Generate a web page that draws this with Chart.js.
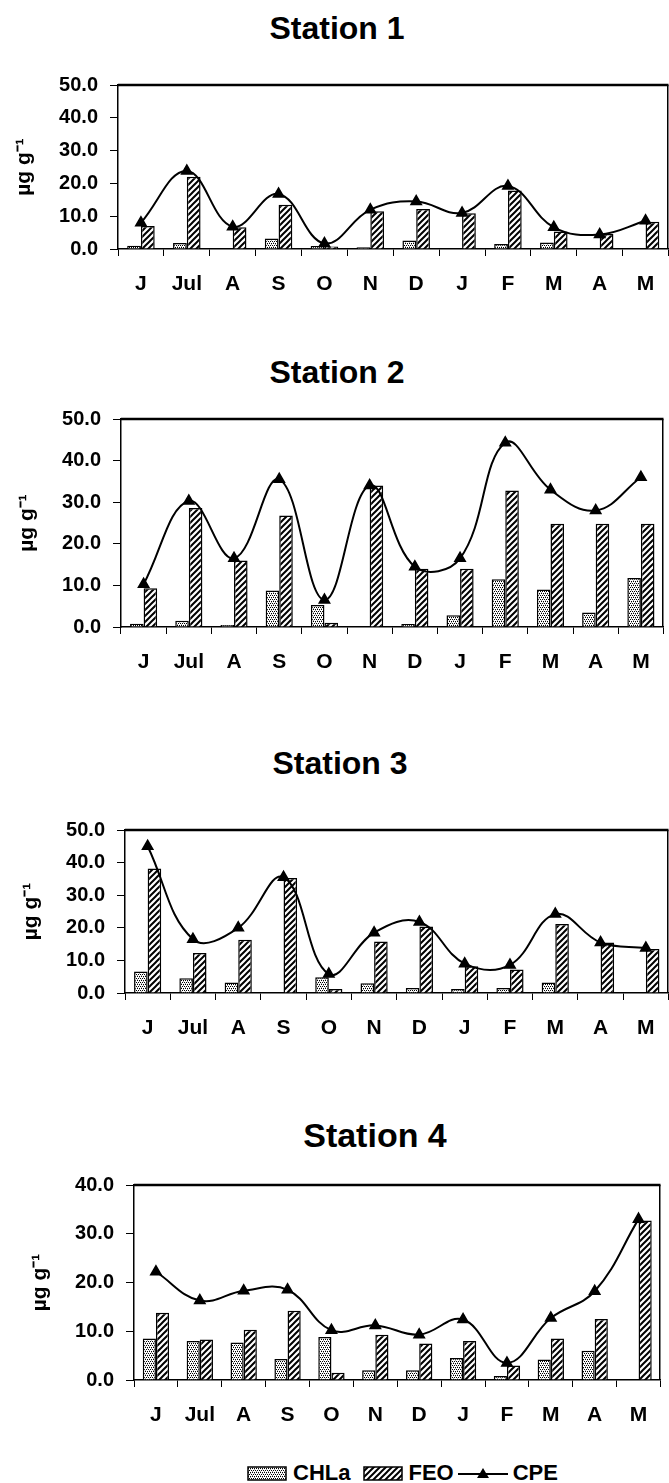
<!DOCTYPE html>
<html>
<head>
<meta charset="utf-8">
<script src="https://cdn.jsdelivr.net/npm/chart.js@4.4.1/dist/chart.umd.min.js"></script>
<style>
html, body { margin: 0; padding: 0; background: #fff; }
body { position: relative; width: 669px; height: 1483px; overflow: hidden;
       font-family: "Liberation Sans", Arial, sans-serif; font-weight: bold; color: #000; }
canvas.chart { position: absolute; left: 0; }
.title { position: absolute; transform: translate(-50%, -50%); white-space: nowrap; font-size: 32px; line-height: 1; }
#legend { position: absolute; left: 247px; top: 1461px; height: 24px; display: flex; align-items: center; font-size: 22px; white-space: nowrap; }
#legend canvas { display: block; }
</style>
</head>
<body>
<div class="title" style="left:337px; top:28px;">Station 1</div>
<div class="title" style="left:337px; top:372px;">Station 2</div>
<div class="title" style="left:340px; top:763px;">Station 3</div>
<div class="title" style="left:375px; top:1135px; font-size:34px;">Station 4</div>

<canvas class="chart" id="st1"></canvas>
<canvas class="chart" id="st2"></canvas>
<canvas class="chart" id="st3"></canvas>
<canvas class="chart" id="st4"></canvas>

<div id="legend">
  <canvas id="swChla" width="40" height="15" style="margin-right:6px"></canvas><span style="margin-right:13px">CHLa</span>
  <canvas id="swFeo" width="40" height="15" style="margin-right:5px"></canvas><span style="margin-right:4px">FEO</span>
  <canvas id="swCpe" width="50" height="16" style="margin-right:5px"></canvas><span>CPE</span>
</div>

<script>
const months = ['J', 'Jul', 'A', 'S', 'O', 'N', 'D', 'J', 'F', 'M', 'A', 'M'];

const chla1 = [1.0, 1.8, 0.2, 3.2, 0.9, 0.5, 2.6, 0.1, 1.5, 2.0, 0, 0];
const feo1  = [7.0, 22.0, 6.6, 13.5, 0.8, 11.5, 12.2, 10.9, 17.8, 5.3, 4.6, 8.3];
const cpe1  = [8.0, 23.8, 6.8, 16.8, 1.7, 12.0, 14.5, 11.0, 19.2, 6.6, 4.4, 8.6];

const chla2 = [0.8, 1.5, 0.5, 8.8, 5.3, 0, 0.7, 2.8, 11.5, 9.0, 3.5, 11.8];
const feo2  = [9.3, 28.6, 16.0, 26.8, 1.0, 34.0, 14.0, 14.0, 32.8, 24.8, 24.8, 24.8];
const cpe2  = [10.3, 30.3, 16.5, 35.5, 6.5, 34.0, 14.5, 16.5, 44.3, 33.0, 28.0, 36.0];

const chla3 = [6.6, 4.5, 3.2, 0, 4.8, 3.0, 1.5, 1.2, 1.5, 3.2, 0, 0];
const feo3  = [38.2, 12.3, 16.3, 35.3, 1.2, 15.8, 20.4, 8.2, 7.2, 21.2, 15.5, 13.5];
const cpe3  = [45.0, 16.5, 20.0, 35.5, 5.8, 18.5, 21.8, 9.0, 8.6, 24.2, 15.5, 13.8];

const chla4 = [8.5, 8.0, 7.7, 4.3, 8.8, 2.0, 2.0, 4.5, 0.8, 4.2, 6.0, 0];
const feo4  = [13.8, 8.3, 10.3, 14.2, 1.5, 9.3, 7.5, 8.0, 3.0, 8.5, 12.5, 32.7];
const cpe4  = [22.2, 16.3, 18.3, 18.5, 10.2, 11.2, 9.3, 12.4, 3.5, 12.7, 18.2, 33.0];

const yTicks = [0, 10, 20, 30, 40, 50];

const FONT = '"Liberation Sans", Arial, sans-serif';

function dotPattern() {
    const c = document.createElement('canvas');
    c.width = 4; c.height = 4;
    const g = c.getContext('2d');
    g.fillStyle = '#fff';
    g.fillRect(0, 0, 4, 4);
    g.fillStyle = '#000';
    g.fillRect(0, 0, 1, 1);
    g.fillRect(2, 0, 1, 1);
    g.fillRect(1, 2, 1, 1);
    g.fillRect(3, 2, 1, 1);
    g.fillStyle = '#aaa';
    g.fillRect(1, 1, 1, 1);
    g.fillRect(3, 3, 1, 1);
    return g.createPattern(c, 'repeat');
}

function hatchPattern() {
    const s = 6;
    const c = document.createElement('canvas');
    c.width = s; c.height = s;
    const g = c.getContext('2d');
    g.fillStyle = '#fff';
    g.fillRect(0, 0, s, s);
    g.strokeStyle = '#000';
    g.lineWidth = 2;
    g.beginPath();
    g.moveTo(0, s); g.lineTo(s, 0);
    g.moveTo(-1, 1); g.lineTo(1, -1);
    g.moveTo(s - 1, s + 1); g.lineTo(s + 1, s - 1);
    g.stroke();
    return g.createPattern(c, 'repeat');
}

const dots = dotPattern();
const hatch = hatchPattern();

// top and right side of the plot box
const framePlugin = {
    id: 'frame',
    afterDraw(chart) {
        const a = chart.chartArea;
        const ctx = chart.ctx;
        ctx.save();
        ctx.strokeStyle = '#000';
        ctx.lineWidth = 2.5;
        ctx.beginPath();
        ctx.moveTo(a.left, a.top);
        ctx.lineTo(a.right, a.top);
        ctx.stroke();
        ctx.lineWidth = 1.5;
        ctx.beginPath();
        ctx.moveTo(a.right - 0.75, a.top);
        ctx.lineTo(a.right - 0.75, a.bottom);
        ctx.stroke();
        ctx.restore();
    }
};

function makeChart(id, chla, feo, cpe, p) {
    const canvas = document.getElementById(id);
    const padTop = 20;
    canvas.width = p.right;
    canvas.height = (p.zero - p.plotTop) + padTop + 60;
    canvas.style.top = (p.plotTop - padTop) + 'px';

    return new Chart(canvas, {
        type: 'bar',
        data: {
            labels: months,
            datasets: [{
                type: 'line',
                label: 'CPE',
                data: cpe,
                borderColor: '#000',
                borderWidth: 2,
                tension: 0.4,
                fill: false,
                pointStyle: 'triangle',
                pointRadius: 5.5,
                pointBackgroundColor: '#000',
                pointBorderColor: '#000',
                order: 0
            }, {
                label: 'CHLa',
                data: chla,
                backgroundColor: dots,
                borderColor: '#000',
                borderWidth: 1.5,
                categoryPercentage: 0.6,
                barPercentage: 1.0,
                order: 1
            }, {
                label: 'FEO',
                data: feo,
                backgroundColor: hatch,
                borderColor: '#000',
                borderWidth: 1.5,
                categoryPercentage: 0.6,
                barPercentage: 1.0,
                order: 1
            }]
        },
        options: {
            responsive: false,
            animation: false,
            events: [],
            layout: { padding: { top: padTop, left: 0, right: 0, bottom: 0 } },
            plugins: {
                legend: { display: false },
                tooltip: { enabled: false }
            },
            scales: {
                x: {
                    grid: { drawOnChartArea: false, drawTicks: true, tickLength: 7, color: '#000', lineWidth: 1, offset: true },
                    border: { display: true, color: '#000', width: 1.5 },
                    ticks: { color: '#000', padding: 16, maxRotation: 0, autoSkip: false,
                             font: { family: FONT, size: 21, weight: 'bold' } },
                    afterFit(s) { s.height = 60; }
                },
                y: {
                    min: 0,
                    max: p.yMax,
                    afterBuildTicks(s) {
                        s.ticks = yTicks.filter(v => v <= p.yMax).map(v => ({ value: v }));
                    },
                    grid: { drawOnChartArea: false, tickLength: 8, color: '#000', lineWidth: 1 },
                    border: { display: true, color: '#000', width: 1.5 },
                    ticks: { color: '#000', padding: 12,
                             callback: v => v.toFixed(1),
                             font: { family: FONT, size: 20, weight: 'bold' } },
                    title: { display: true, text: 'µg g⁻¹', color: '#000',
                             padding: { top: p.axisX - 106, bottom: 0 },
                             font: { family: FONT, size: 21, weight: 'bold' } },
                    afterFit(s) { s.width = p.axisX; }
                }
            }
        },
        plugins: [framePlugin]
    });
}

makeChart('st1', chla1, feo1, cpe1, { axisX: 118, plotTop: 81, zero: 249, right: 676, yMax: 50 });
makeChart('st2', chla2, feo2, cpe2, { axisX: 121, plotTop: 415, zero: 627, right: 671, yMax: 50 });
makeChart('st3', chla3, feo3, cpe3, { axisX: 125, plotTop: 826, zero: 993, right: 676, yMax: 50 });
makeChart('st4', chla4, feo4, cpe4, { axisX: 134, plotTop: 1181, zero: 1380, right: 668, yMax: 40 });

// legend swatches
function swatch(id, fill) {
    const c = document.getElementById(id);
    const g = c.getContext('2d');
    g.fillStyle = fill;
    g.fillRect(1, 1, c.width - 2, c.height - 2);
    g.strokeStyle = '#000';
    g.lineWidth = 1.5;
    g.strokeRect(1, 1, c.width - 2, c.height - 2);
}
swatch('swChla', dots);
swatch('swFeo', hatch);

(function () {
    const c = document.getElementById('swCpe');
    const g = c.getContext('2d');
    const cy = c.height / 2 + 1;
    g.strokeStyle = '#000';
    g.lineWidth = 2;
    g.beginPath();
    g.moveTo(0, cy);
    g.lineTo(c.width, cy);
    g.stroke();
    g.fillStyle = '#000';
    g.beginPath();
    g.moveTo(c.width / 2, cy - 6);
    g.lineTo(c.width / 2 + 6, cy + 4);
    g.lineTo(c.width / 2 - 6, cy + 4);
    g.closePath();
    g.fill();
})();
</script>
</body>
</html>
